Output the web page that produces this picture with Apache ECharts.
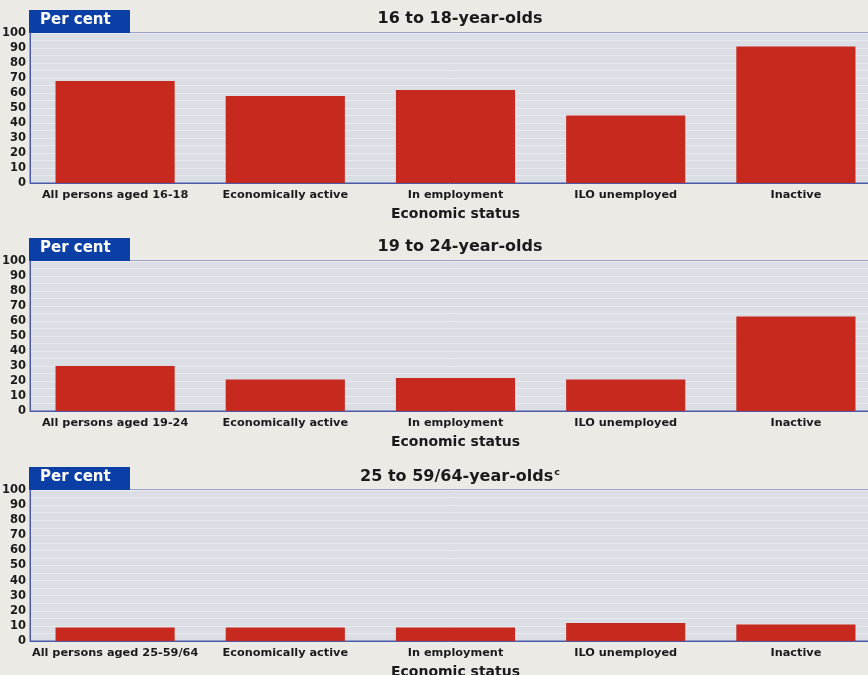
<!DOCTYPE html>
<html>
<head>
<meta charset="utf-8">
<script src="https://cdn.jsdelivr.net/npm/echarts@6/dist/echarts.min.js"></script>
<style>
  html, body { margin: 0; padding: 0; background: #ebeae5; }
  #chart { width: 868px; height: 675px; }
</style>
</head>
<body>
<div id="chart"></div>
<script>
// Share of each group by economic status, per cent
const categories1 = ['All persons aged 16-18', 'Economically active', 'In employment', 'ILO unemployed', 'Inactive'];
const categories2 = ['All persons aged 19-24', 'Economically active', 'In employment', 'ILO unemployed', 'Inactive'];
const categories3 = ['All persons aged 25-59/64', 'Economically active', 'In employment', 'ILO unemployed', 'Inactive'];
const values1 = [68, 58, 62, 45, 91];
const values2 = [30, 21, 22, 21, 63];
const values3 = [9, 9, 9, 12, 11];
const panelTitles = ['16 to 18-year-olds', '19 to 24-year-olds', '25 to 59/64-year-olds{sup|c}'];
const axisName = 'Economic status';
const yTickStep = 5;

const FONT = '"DejaVu Sans", sans-serif';
const BLUE = '#0b3fa6';
const LINE = '#4a5aa8';
const BAR = '#c8291f';

const panels = [
  { top: 33, height: 150, cats: categories1, vals: values1 },
  { top: 261, height: 150, cats: categories2, vals: values2 },
  { top: 490, height: 151, cats: categories3, vals: values3 }
];

const grid = [], xAxis = [], yAxis = [], series = [], title = [], graphic = [];

panels.forEach((p, i) => {
  // plot runs past the right edge of the page
  grid.push({
    left: 30, width: 851, top: p.top, height: p.height,
    outerBoundsMode: 'none',
    show: true, backgroundColor: '#dbdee5',
    borderColor: LINE, borderWidth: 1
  });
  xAxis.push({
    type: 'category', gridIndex: i, data: p.cats,
    axisLine: { show: true, lineStyle: { color: LINE, width: 1 } },
    axisTick: { show: false },
    axisLabel: { interval: 0, color: '#1a1a1a', fontFamily: FONT, fontWeight: 'bold', fontSize: 11.3, margin: 7 },
    name: axisName, nameLocation: 'middle', nameGap: 24,
    nameTextStyle: { color: '#1a1a1a', fontFamily: FONT, fontWeight: 'bold', fontSize: 14 }
  });
  yAxis.push({
    type: 'value', gridIndex: i, min: 0, max: 100, interval: yTickStep,
    axisLine: { show: true, lineStyle: { color: LINE, width: 1 } },
    axisTick: { show: false },
    axisLabel: {
      color: '#1a1a1a', fontFamily: FONT, fontWeight: 'bold', fontSize: 11.5, margin: 4,
      formatter: v => (v % 10 === 0 ? String(v) : '')
    },
    splitLine: { show: true, lineStyle: { color: '#e8eaee', width: 1 } }
  });
  series.push({
    type: 'bar', xAxisIndex: i, yAxisIndex: i, data: p.vals,
    barCategoryGap: '30%',
    itemStyle: { color: BAR },
    silent: true
  });
  title.push({
    text: panelTitles[i], left: 455, top: p.top - 27, textAlign: 'center',
    textStyle: {
      color: '#1a1a1a', fontFamily: FONT, fontWeight: 'bold', fontSize: 16,
      rich: { sup: { fontFamily: FONT, fontWeight: 'bold', fontSize: 9.5, color: '#1a1a1a', verticalAlign: 'top', padding: [0, 0, 8, 1] } }
    }
  });
  // "Per cent" tab above each panel
  graphic.push({
    type: 'rect', left: 29, top: p.top - 23, shape: { width: 101, height: 23 },
    style: { fill: BLUE }
  });
  graphic.push({
    type: 'text', left: 40, top: p.top - 20,
    style: { text: 'Per cent', fill: '#ffffff', font: 'bold 15px ' + FONT }
  });
});

const chart = echarts.init(document.getElementById('chart'));
chart.setOption({
  animation: false,
  backgroundColor: '#ebeae5',
  title, grid, xAxis, yAxis, series, graphic
});
</script>
</body>
</html>
